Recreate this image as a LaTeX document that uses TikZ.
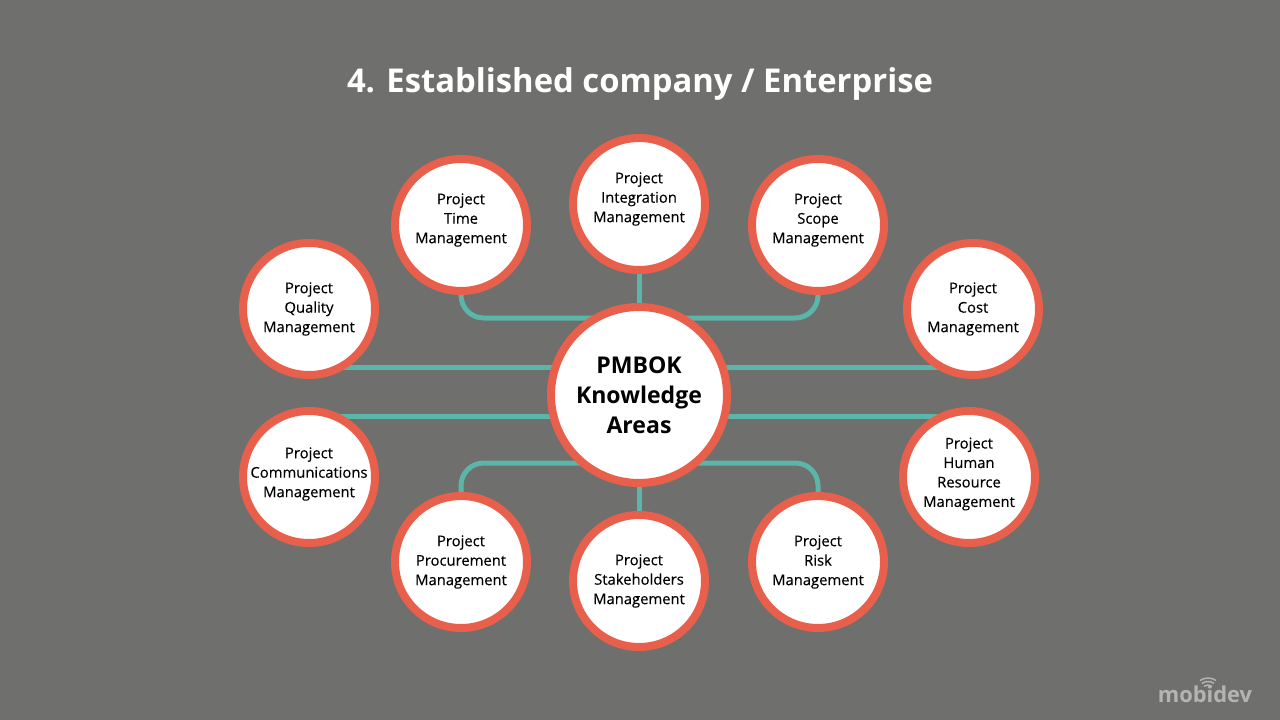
\documentclass[tikz,border=0pt]{standalone}
\usepackage{fontspec}
\setmainfont{Open Sans}
\newfontfamily\areafont[FakeBold=0.25]{Open Sans}
\usepackage{xcolor}
\usetikzlibrary{backgrounds}
\definecolor{bg}{HTML}{6F6F6D}
\definecolor{ring}{HTML}{E8604C}
\definecolor{teal}{HTML}{5BB5A9}
\definecolor{logo}{HTML}{B4B4B3}
\tikzset{
  area/.style={draw=ring, line width=6pt, fill=white, circle, inner sep=0pt, outer sep=0pt,
               minimum size=99pt, align=center, text=black,
               font=\areafont\fontsize{11.1}{14.6}\selectfont},
  hub/.style={area, minimum size=132pt, font=\fontsize{17.3}{22.4}\selectfont\bfseries},
  link/.style={draw=teal, line width=3.75pt},
  elbow/.style={link, rounded corners=17pt},
  headline/.style={text=white, font=\fontsize{24.6}{30}\selectfont\bfseries},
  brand/.style={text=logo, font=\fontsize{16.4}{18}\selectfont\bfseries},
  wave/.style={draw=logo, line width=1.1pt},
}
\begin{document}
\begin{tikzpicture}[x=0.75pt,y=-0.75pt]
  \useasboundingbox(0,0)rectangle(1280,720);
  \node[headline](head)at(640,84){4. Established company / Enterprise};
  \node[hub](pmbok)at(639,395){PMBOK\\Knowledge\\Areas};
  \node[area](integ)at(639,204){Project\\Integration\\Management\\[-4.5pt]};
  \node[area](time)at(461,225){Project\\Time\\Management\\[-4.5pt]};
  \node[area](scope)at(818,225){Project\\Scope\\Management\\[-4.5pt]};
  \node[area](qual)at(309,309){Project\\Quality\\Management};
  \node[area](cost)at(973,309){Project\\Cost\\Management};
  \node[area](comm)at(309,477){Project\\Communications\\Management\\[-7.5pt]};
  \node[area](human)at(969,477){Project\\Human\\Resource\\Management\\[-7.5pt]};
  \node[area](proc)at(461,562){Project\\Procurement\\Management};
  \node[area](stake)at(639,581){Project\\Stakeholders\\Management};
  \node[area](risk)at(818,562){Project\\Risk\\Management};
  % free ends of the connectors
  \coordinate(upper)at(639,318);
  \coordinate(lower)at(639,463);
  \coordinate(qualend)at(309,367);
  \coordinate(costend)at(973,367);
  \coordinate(commend)at(309,416);
  \coordinate(humanend)at(969,416);
  \begin{scope}[on background layer]
    \fill[bg](0,0)rectangle(1280,720);
    \draw[link](integ)--(pmbok);
    \draw[link](stake)--(pmbok);
    \draw[elbow](time)|-(upper);
    \draw[elbow](scope)|-(upper);
    \draw[elbow](proc)|-(lower);
    \draw[elbow](risk)|-(lower);
    \draw[link](qualend)--(costend);
    \draw[link](commend)--(humanend);
  \end{scope}
  % logo
  \node[brand](mark)at(1205,694){mobidev};
  \coordinate(waves)at(1208,692);
  \foreach \r in {7,10.5,14}{
    \draw[wave]([shift={(-55:\r)}]waves)arc(-55:-125:\r);
  }
\end{tikzpicture}
\end{document}
